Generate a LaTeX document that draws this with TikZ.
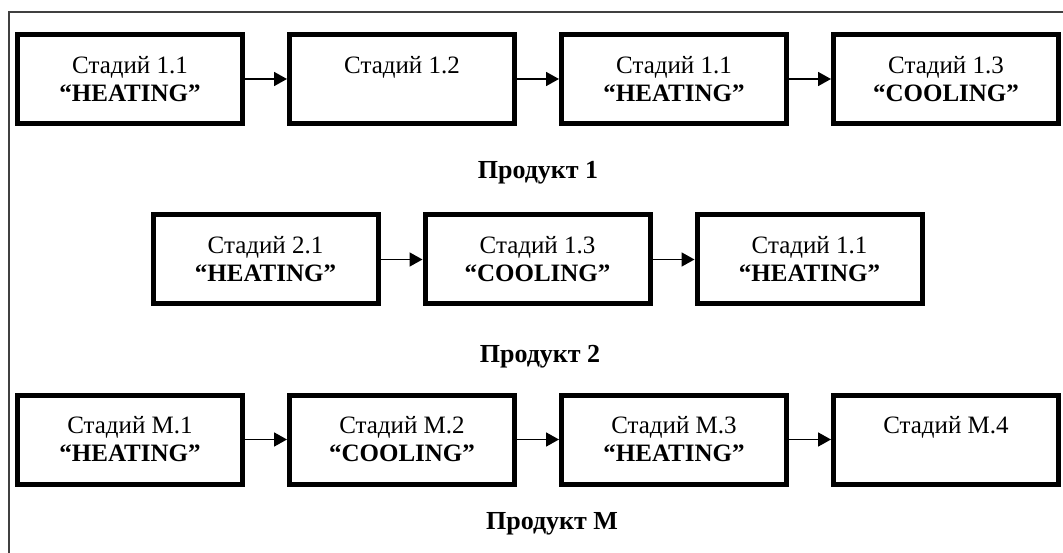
\documentclass[tikz,border=0pt]{standalone}
\usepackage{fontspec}
\setmainfont{Liberation Serif}
\usetikzlibrary{arrows.meta,positioning}
\definecolor{Frame}{HTML}{404040}
\tikzset{stage/.style={draw=black,line width=5pt,minimum width=225pt,minimum height=89pt,align=center,inner sep=0pt,font=\fontsize{25}{28}\selectfont},prod/.style={font=\fontsize{26}{30}\selectfont\bfseries},flow/.style={-{Triangle[length=13pt,width=14pt]},line width=1.8pt}}
\begin{document}
\begin{tikzpicture}[x={(1pt,0)},y={(0,-1pt)},node distance=42pt]
      \useasboundingbox(0,0)rectangle(1063,553);
      \draw[Frame,line width=1.5pt](9,553)--(9,12)--(1063,12);
      % Product 1
      \node[stage](a1)at(130,79){Стадий 1.1\\\textbf{“HEATING”}};
      \node[stage,right=of a1](a2){Стадий 1.2\\\phantom{\textbf{“HEATING”}}};
      \node[stage,right=of a2](a3){Стадий 1.1\\\textbf{“HEATING”}};
      \node[stage,right=of a3](a4){Стадий 1.3\\\textbf{“COOLING”}};
      \draw[flow](a1)--(a2);\draw[flow](a2)--(a3);\draw[flow](a3)--(a4);
      \node[prod](p1)at(538,173){Продукт 1};
      % Product 2
      \node[stage](b1)at(265.5,259.5){Стадий 2.1\\\textbf{“HEATING”}};
      \node[stage,right=of b1](b2){Стадий 1.3\\\textbf{“COOLING”}};
      \node[stage,right=of b2](b3){Стадий 1.1\\\textbf{“HEATING”}};
      \draw[flow](b1)--(b2);\draw[flow](b2)--(b3);
      \node[prod](p2)at(540,357){Продукт 2};
      % Product M
      \node[stage](c1)at(130,439.5){Стадий М.1\\\textbf{“HEATING”}};
      \node[stage,right=of c1](c2){Стадий М.2\\\textbf{“COOLING”}};
      \node[stage,right=of c2](c3){Стадий М.3\\\textbf{“HEATING”}};
      \node[stage,right=of c3](c4){Стадий М.4\\\phantom{\textbf{“HEATING”}}};
      \draw[flow](c1)--(c2);\draw[flow](c2)--(c3);\draw[flow](c3)--(c4);
      \node[prod](pm)at(552,524){Продукт M};
    \end{tikzpicture}
\end{document}
